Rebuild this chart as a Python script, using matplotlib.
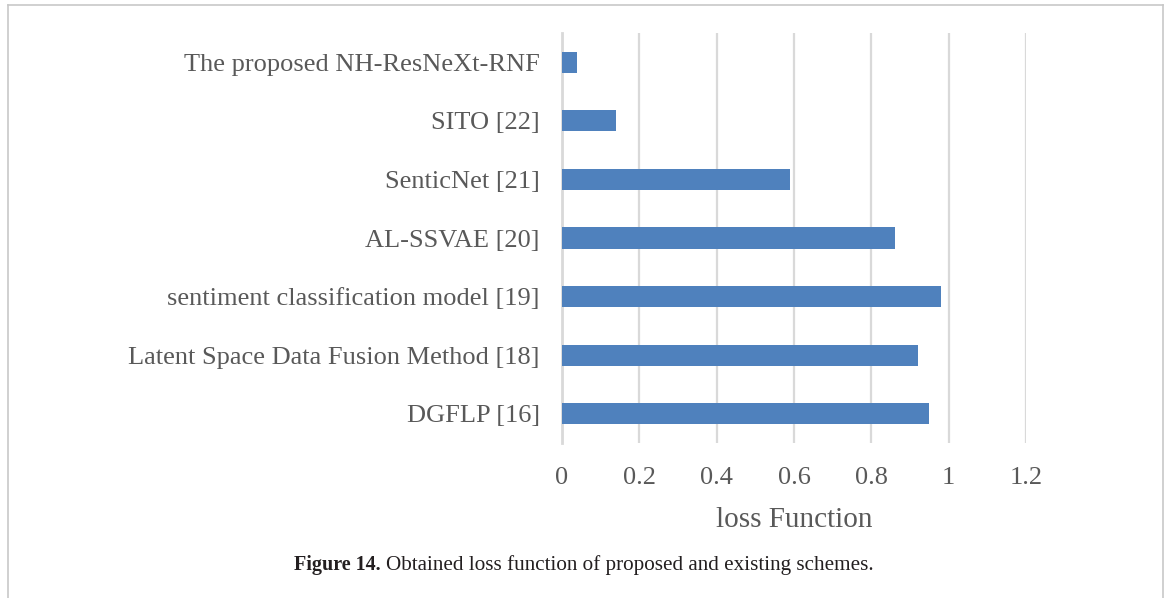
import matplotlib.pyplot as plt
from matplotlib.lines import Line2D

methods = [
    "DGFLP [16]",
    "Latent Space Data Fusion Method [18]",
    "sentiment classification model [19]",
    "AL-SSVAE [20]",
    "SenticNet [21]",
    "SITO [22]",
    "The proposed NH-ResNeXt-RNF",
]
loss = [0.95, 0.92, 0.98, 0.86, 0.59, 0.14, 0.04]
xticks = [0, 0.2, 0.4, 0.6, 0.8, 1.0, 1.2]
xtick_labels = ["0", "0.2", "0.4", "0.6", "0.8", "1", "1.2"]

plt.rcParams['font.family'] = ['Liberation Serif', 'DejaVu Serif']
text_color = '#595959'
grid_color = '#d9d9d9'

fig = plt.figure(figsize=(11.7, 5.98), dpi=100)
ax = fig.add_axes([0.4803, 0.2592, 0.3966, 0.6856])

ypos = range(len(methods))
ax.barh(ypos, loss, height=0.36, color='#4f81bd', zorder=3)

ax.set_xlim(0, 1.2)
ax.set_ylim(-0.5, len(methods) - 0.5)
ax.set_xticks(xticks)
ax.set_xticklabels(xtick_labels, fontsize=19, color=text_color)
ax.set_yticks(list(ypos))
ax.set_yticklabels(methods, fontsize=19, color=text_color)
ax.tick_params(length=0, pad=16, axis='y')
ax.tick_params(length=0, pad=17, axis='x')

ax.grid(axis='x', color=grid_color, linewidth=1.6, zorder=0)
for side in ['top', 'right', 'bottom']:
    ax.spines[side].set_visible(False)
ax.spines['left'].set_color(grid_color)
ax.spines['left'].set_linewidth(2.0)

ax.set_xlabel("loss Function", fontsize=21, color=text_color, labelpad=13)

# thin gray frame around the figure panel (open at the bottom)
frame_kw = dict(color='#c8c8c8', linewidth=1.2, transform=fig.transFigure)
x0, x1 = 8 / 1170, 1163 / 1170
ytop = 1 - 5 / 598
fig.add_artist(Line2D([x0, x1], [ytop, ytop], **frame_kw))
fig.add_artist(Line2D([x0, x0], [0, ytop], **frame_kw))
fig.add_artist(Line2D([x1, x1], [0, ytop], **frame_kw))

fig.text(294 / 1170, 1 - 565 / 598, "Figure 14.", fontsize=14.5, fontweight='bold',
         color='#231f20', ha='left', va='center')
fig.text(386 / 1170, 1 - 565 / 598, "Obtained loss function of proposed and existing schemes.",
         fontsize=15.2, color='#231f20', ha='left', va='center')

fig.savefig('out.png', dpi=100, facecolor='white')
